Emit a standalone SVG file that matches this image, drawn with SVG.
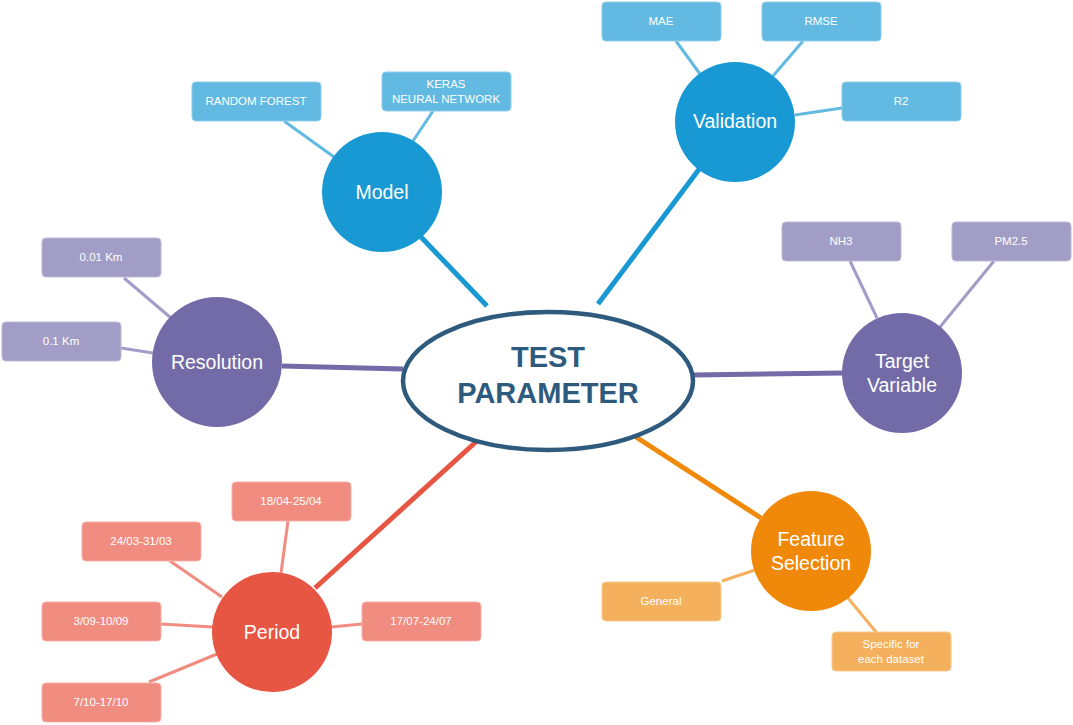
<svg xmlns="http://www.w3.org/2000/svg" width="1073" height="725" viewBox="0 0 1073 725">
<style>
text{font-family:"Liberation Sans",Arial,Helvetica,sans-serif;fill:#fff;text-anchor:middle}
.big{font-size:19.5px}
.sm{font-size:11.5px}
.blueC{fill:#1999d3}.blueB{fill:#62b9e1;stroke:#8fcdea;stroke-width:1}
.purC{fill:#736ba8}.purB{fill:#a29dc6;stroke:#bdb9d8;stroke-width:1}
.redC{fill:#e65643}.redB{fill:#f08c80;stroke:#f6b1a9;stroke-width:1}
.orC{fill:#f0890a}.orB{fill:#f4b05c;stroke:#f8c98f;stroke-width:1}
.m{stroke-width:5;fill:none}
.s{stroke-width:3;fill:none}
</style>
<g id="connectors">
<line class="m" stroke="#1999d3" x1="420" y1="236" x2="487" y2="306"/>
<line class="m" stroke="#1999d3" x1="700" y1="168" x2="598" y2="304"/>
<line class="m" stroke="#736ba8" x1="282" y1="366" x2="403" y2="369"/>
<line class="m" stroke="#736ba8" x1="693" y1="375" x2="843" y2="373"/>
<line class="m" stroke="#e65643" x1="315" y1="588" x2="478" y2="440"/>
<line class="m" stroke="#f0890a" x1="636" y1="437" x2="761" y2="518"/>
<line class="s" stroke="#62b9e1" x1="284" y1="121" x2="334" y2="157"/>
<line class="s" stroke="#62b9e1" x1="433" y1="111" x2="413" y2="141"/>
<line class="s" stroke="#62b9e1" x1="676" y1="41" x2="700" y2="74"/>
<line class="s" stroke="#62b9e1" x1="803" y1="41" x2="773" y2="76"/>
<line class="s" stroke="#62b9e1" x1="842" y1="108" x2="795" y2="115"/>
<line class="s" stroke="#a29dc6" x1="124" y1="278" x2="171" y2="318"/>
<line class="s" stroke="#a29dc6" x1="121" y1="348" x2="153" y2="353"/>
<line class="s" stroke="#a29dc6" x1="850" y1="261" x2="877" y2="318"/>
<line class="s" stroke="#a29dc6" x1="994" y1="261" x2="940" y2="327"/>
<line class="s" stroke="#f4b05c" x1="722" y1="581" x2="755" y2="570"/>
<line class="s" stroke="#f4b05c" x1="848" y1="598" x2="876" y2="632"/>
<line class="s" stroke="#f08c80" x1="288" y1="521" x2="281" y2="573"/>
<line class="s" stroke="#f08c80" x1="170" y1="561" x2="222" y2="597"/>
<line class="s" stroke="#f08c80" x1="161" y1="624" x2="213" y2="627"/>
<line class="s" stroke="#f08c80" x1="362" y1="624" x2="331" y2="627"/>
<line class="s" stroke="#f08c80" x1="149" y1="682" x2="217" y2="654"/>
</g>
<g id="center">
<ellipse cx="548" cy="381" rx="145" ry="69" fill="#fff" stroke="#2e5b7d" stroke-width="4.5"/>
<text x="548" y="367" style="font-size:29px;font-weight:bold;fill:#2e5b7d">TEST</text>
<text x="548" y="403" style="font-size:29px;font-weight:bold;fill:#2e5b7d">PARAMETER</text>
</g>
<g id="model">
<circle class="blueC" cx="382" cy="192" r="60"/>
<text class="big" x="382" y="199">Model</text>
</g>
<g id="random-forest">
<rect class="blueB" x="192" y="82" width="129" height="39" rx="4"/>
<text class="sm" x="256" y="105">RANDOM FOREST</text>
</g>
<g id="keras">
<rect class="blueB" x="382" y="72" width="129" height="39" rx="4"/>
<text class="sm" x="446" y="88">KERAS</text>
<text class="sm" x="446" y="103">NEURAL NETWORK</text>
</g>
<g id="validation">
<circle class="blueC" cx="735" cy="122" r="60"/>
<text class="big" x="735" y="128">Validation</text>
</g>
<g id="mae">
<rect class="blueB" x="602" y="2" width="119" height="39" rx="4"/>
<text class="sm" x="661" y="25">MAE</text>
</g>
<g id="rmse">
<rect class="blueB" x="762" y="2" width="119" height="39" rx="4"/>
<text class="sm" x="821" y="25">RMSE</text>
</g>
<g id="r2">
<rect class="blueB" x="842" y="82" width="119" height="39" rx="4"/>
<text class="sm" x="901" y="105">R2</text>
</g>
<g id="resolution">
<circle class="purC" cx="217" cy="362" r="65"/>
<text class="big" x="217" y="369">Resolution</text>
</g>
<g id="km001">
<rect class="purB" x="42" y="238" width="119" height="39" rx="4"/>
<text class="sm" x="101" y="261">0.01 Km</text>
</g>
<g id="km01">
<rect class="purB" x="2" y="322" width="119" height="39" rx="4"/>
<text class="sm" x="61" y="345">0.1 Km</text>
</g>
<g id="target-variable">
<circle class="purC" cx="902" cy="373" r="60"/>
<text class="big" x="902" y="368">Target</text>
<text class="big" x="902" y="392">Variable</text>
</g>
<g id="nh3">
<rect class="purB" x="782" y="222" width="119" height="39" rx="4"/>
<text class="sm" x="841" y="245">NH3</text>
</g>
<g id="pm25">
<rect class="purB" x="952" y="222" width="119" height="39" rx="4"/>
<text class="sm" x="1011" y="245">PM2.5</text>
</g>
<g id="feature-selection">
<circle class="orC" cx="811" cy="551" r="60"/>
<text class="big" x="811" y="546">Feature</text>
<text class="big" x="811" y="570">Selection</text>
</g>
<g id="general">
<rect class="orB" x="602" y="582" width="119" height="39" rx="4"/>
<text class="sm" x="661" y="605">General</text>
</g>
<g id="specific">
<rect class="orB" x="832" y="632" width="119" height="39" rx="4"/>
<text class="sm" x="891" y="648">Specific for</text>
<text class="sm" x="891" y="663">each dataset</text>
</g>
<g id="period">
<circle class="redC" cx="272" cy="632" r="60"/>
<text class="big" x="272" y="639">Period</text>
</g>
<g id="p1804">
<rect class="redB" x="232" y="482" width="119" height="39" rx="4"/>
<text class="sm" x="291" y="505">18/04-25/04</text>
</g>
<g id="p2403">
<rect class="redB" x="82" y="522" width="119" height="39" rx="4"/>
<text class="sm" x="141" y="545">24/03-31/03</text>
</g>
<g id="p0309">
<rect class="redB" x="42" y="602" width="119" height="39" rx="4"/>
<text class="sm" x="101" y="625">3/09-10/09</text>
</g>
<g id="p1707">
<rect class="redB" x="362" y="602" width="119" height="39" rx="4"/>
<text class="sm" x="421" y="625">17/07-24/07</text>
</g>
<g id="p0710">
<rect class="redB" x="42" y="683" width="119" height="39" rx="4"/>
<text class="sm" x="101" y="706">7/10-17/10</text>
</g>
</svg>
